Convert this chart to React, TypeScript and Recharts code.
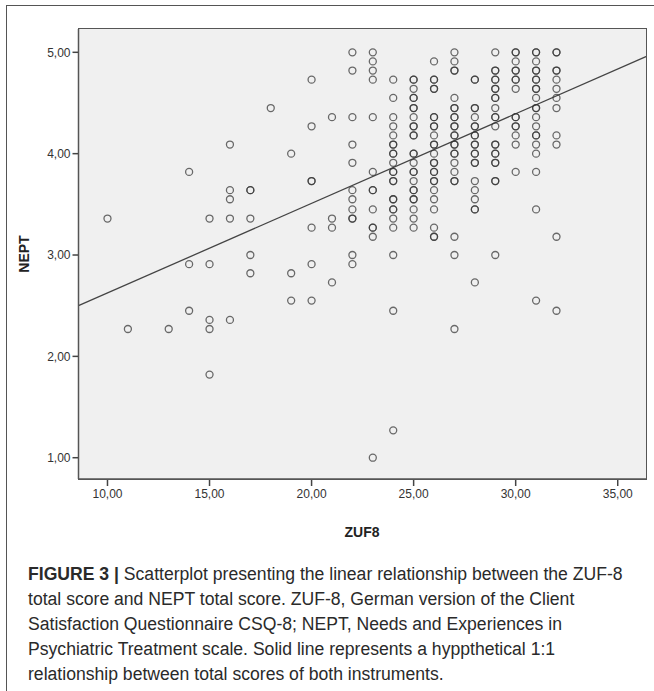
import { ScatterChart, Scatter, XAxis, YAxis, CartesianGrid, ReferenceLine } from "recharts"

// ZUF-8 total scores (x) and the NEPT totals observed at each of them (y)
const zufScores = [10, 11, 13, 14, 15, 16, 17, 18, 19, 20, 21, 22, 23, 24, 25, 26, 27, 28, 29, 30, 31, 32]

const neptScores: number[][] = [
  [3.36],
  [2.27],
  [2.27],
  [3.82, 2.91, 2.45],
  [3.36, 2.91, 2.36, 2.27, 1.82],
  [4.09, 3.64, 3.55, 3.36, 2.36],
  [3.64, 3.64, 3.36, 3.0, 2.82],
  [4.45],
  [4.0, 2.82, 2.55],
  [4.73, 4.27, 3.73, 3.73, 3.27, 2.91, 2.55],
  [4.36, 3.36, 3.27, 2.73],
  [5.0, 4.82, 4.36, 4.09, 3.91, 3.64, 3.55, 3.45, 3.36, 3.36, 3.0, 2.91],
  [5.0, 4.91, 4.82, 4.73, 4.36, 3.82, 3.64, 3.64, 3.45, 3.27, 3.27, 3.18, 1.0],
  [4.73, 4.55, 4.36, 4.27, 4.18, 4.09, 4.09, 4.0, 4.0, 3.91, 3.82, 3.82, 3.73, 3.73, 3.55, 3.55, 3.45, 3.45, 3.36, 3.27, 3.0, 2.45, 1.27],
  [4.73, 4.73, 4.64, 4.55, 4.55, 4.45, 4.45, 4.36, 4.27, 4.27, 4.18, 4.18, 4.0, 4.0, 3.91, 3.82, 3.82, 3.73, 3.64, 3.64, 3.55, 3.55, 3.45, 3.36, 3.27],
  [4.91, 4.73, 4.73, 4.64, 4.64, 4.36, 4.36, 4.27, 4.27, 4.18, 4.09, 4.09, 4.0, 3.91, 3.91, 3.82, 3.82, 3.73, 3.73, 3.64, 3.55, 3.45, 3.27, 3.18, 3.18],
  [5.0, 4.91, 4.82, 4.82, 4.55, 4.45, 4.45, 4.36, 4.36, 4.27, 4.27, 4.18, 4.18, 4.09, 4.09, 4.0, 4.0, 3.91, 3.82, 3.73, 3.73, 3.18, 3.0, 2.27],
  [4.73, 4.73, 4.45, 4.45, 4.36, 4.27, 4.27, 4.18, 4.18, 4.09, 4.09, 4.0, 4.0, 3.91, 3.91, 3.73, 3.64, 3.55, 3.45, 3.45, 2.73],
  [5.0, 4.82, 4.82, 4.73, 4.73, 4.64, 4.64, 4.55, 4.55, 4.45, 4.36, 4.36, 4.27, 4.09, 4.09, 4.0, 4.0, 3.91, 3.91, 3.73, 3.73, 3.0],
  [5.0, 5.0, 4.91, 4.82, 4.82, 4.73, 4.73, 4.64, 4.36, 4.36, 4.27, 4.27, 4.18, 4.09, 3.82],
  [5.0, 5.0, 4.91, 4.82, 4.82, 4.73, 4.73, 4.64, 4.64, 4.55, 4.45, 4.45, 4.36, 4.27, 4.18, 4.18, 4.09, 4.0, 3.82, 3.45, 2.55],
  [5.0, 5.0, 4.82, 4.82, 4.73, 4.64, 4.55, 4.45, 4.18, 4.09, 3.18, 2.45],
]

const xTicks = [10, 15, 20, 25, 30, 35]
const yTicks = [1, 2, 3, 4, 5]
const xDomain = [8.58, 36.41]
const yDomain = [0.79, 5.23]

// fitted line, ends at the edges of the plot
const fitLine = [
  { zuf: 8.58, nept: 2.5 },
  { zuf: 36.41, nept: 4.96 },
]

const points = zufScores.flatMap((zuf, i) => neptScores[i].map((nept) => ({ zuf, nept })))

const fmt = (v: number) => v.toFixed(2).replace(".", ",")

const Ring = (props: any) => (
  <circle cx={props.cx} cy={props.cy} r={3.5} fill="none" stroke="#333" strokeOpacity={0.72} strokeWidth={1.3} />
)

const font = "Liberation Sans, Arial, sans-serif"
const tickStyle = { fontFamily: font, fontSize: 12, fill: "#333" }
const frameLine = { stroke: "#555", strokeWidth: 1.5 }

export default function App() {
  return (
    <div style={{ position: "absolute", left: 0, top: 0, width: 654, height: 691, background: "#fff", overflow: "hidden" }}>
      {/* figure frame */}
      <div style={{ position: "absolute", left: 6, top: 5, width: 700, height: 720, border: "1.5px solid #555" }} />

      <div style={{ position: "absolute", left: 0, top: 0 }}>
        <ScatterChart width={654} height={560} margin={{ top: 29, right: 7.5, left: 8.5, bottom: 41 }}>
          <CartesianGrid fill="#f0f0f0" horizontal={false} vertical={false} />
          <XAxis
            type="number"
            dataKey="zuf"
            domain={xDomain}
            ticks={xTicks}
            allowDataOverflow
            tickFormatter={fmt}
            height={40}
            tickSize={7}
            tickMargin={3}
            tick={tickStyle}
            stroke="#555"
            axisLine={frameLine}
            tickLine={{ stroke: "#444", strokeWidth: 1.5 }}
          />
          <YAxis
            type="number"
            dataKey="nept"
            domain={yDomain}
            ticks={yTicks}
            allowDataOverflow
            tickFormatter={fmt}
            width={70}
            tickSize={6}
            tickMargin={2}
            tick={tickStyle}
            stroke="#555"
            axisLine={frameLine}
            tickLine={{ stroke: "#444", strokeWidth: 1.5 }}
          />
          <Scatter data={points} shape={Ring} isAnimationActive={false} />
          <ReferenceLine
            segment={[
              { x: fitLine[0].zuf, y: fitLine[0].nept },
              { x: fitLine[1].zuf, y: fitLine[1].nept },
            ]}
            stroke="#444"
            strokeWidth={1.3}
          />
        </ScatterChart>
      </div>

      {/* frame around the plot area */}
      <div
        style={{
          position: "absolute",
          left: 77.75,
          top: 28.25,
          width: 569.5,
          height: 451.5,
          boxSizing: "border-box",
          border: "1.5px solid #555",
          pointerEvents: "none",
        }}
      />

      {/* axis titles */}
      <div
        style={{
          position: "absolute",
          left: 24,
          top: 254,
          transform: "translate(-50%, -50%) rotate(-90deg)",
          fontFamily: font,
          fontWeight: "bold",
          fontSize: 14,
          color: "#222",
        }}
      >
        NEPT
      </div>
      <div
        style={{
          position: "absolute",
          left: 362,
          top: 532,
          transform: "translate(-50%, -50%)",
          fontFamily: font,
          fontWeight: "bold",
          fontSize: 14,
          color: "#222",
        }}
      >
        ZUF8
      </div>

      {/* caption */}
      <div
        style={{
          position: "absolute",
          left: 28,
          top: 562,
          whiteSpace: "nowrap",
          fontFamily: font,
          fontSize: 17.6,
          lineHeight: "25px",
          color: "#2a2a2a",
        }}
      >
        <b>FIGURE 3 |</b> Scatterplot presenting the linear relationship between the ZUF-8
        <br />
        total score and NEPT total score. ZUF-8, German version of the Client
        <br />
        Satisfaction Questionnaire CSQ-8; NEPT, Needs and Experiences in
        <br />
        Psychiatric Treatment scale. Solid line represents a hyppthetical 1:1
        <br />
        relationship between total scores of both instruments.
      </div>
    </div>
  )
}
